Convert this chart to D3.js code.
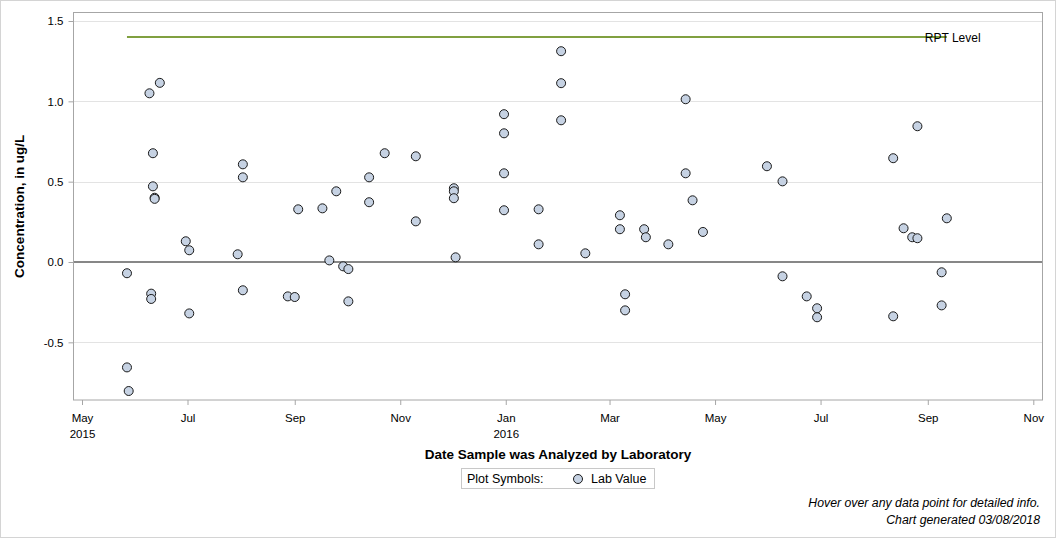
<!DOCTYPE html>
<html>
<head>
<meta charset="utf-8">
<script src="https://cdn.jsdelivr.net/npm/d3@7"></script>
<style>
  html, body { margin: 0; padding: 0; background: #fff; }
  svg { display: block; font-family: "Liberation Sans", Arial, sans-serif; }
</style>
</head>
<body>
<script>
// sample dates (analysed by lab) and lab values
const dates = [
  "2015-05-27", "2015-05-27", "2015-05-28",
  "2015-06-09", "2015-06-10", "2015-06-10", "2015-06-11", "2015-06-11",
  "2015-06-12", "2015-06-12", "2015-06-15",
  "2015-06-30", "2015-07-02", "2015-07-02",
  "2015-07-30", "2015-08-02", "2015-08-02", "2015-08-02",
  "2015-08-28", "2015-09-01", "2015-09-03", "2015-09-17", "2015-09-21",
  "2015-09-25", "2015-09-29", "2015-10-02", "2015-10-02",
  "2015-10-14", "2015-10-14", "2015-10-23", "2015-11-10", "2015-11-10",
  "2015-12-02", "2015-12-02", "2015-12-02", "2015-12-03",
  "2015-12-31", "2015-12-31", "2015-12-31", "2015-12-31",
  "2016-01-20", "2016-01-20",
  "2016-02-02", "2016-02-02", "2016-02-02", "2016-02-16",
  "2016-03-07", "2016-03-07", "2016-03-10", "2016-03-10",
  "2016-03-21", "2016-03-22", "2016-04-04",
  "2016-04-14", "2016-04-14", "2016-04-18", "2016-04-24",
  "2016-05-31", "2016-06-09", "2016-06-09",
  "2016-06-23", "2016-06-29", "2016-06-29",
  "2016-08-12", "2016-08-12", "2016-08-18", "2016-08-23",
  "2016-08-26", "2016-08-26", "2016-09-09", "2016-09-09", "2016-09-12"
];
const labValues = [
  -0.07, -0.656, -0.803,
  1.05, -0.197, -0.23, 0.677, 0.471,
  0.40, 0.393, 1.115,
  0.129, 0.073, -0.32,
  0.048, 0.608, 0.527, -0.176,
  -0.214, -0.218, 0.328, 0.334, 0.01,
  0.44, -0.027, -0.044, -0.245,
  0.527, 0.372, 0.677, 0.658, 0.253,
  0.459, 0.44, 0.397, 0.029,
  0.92, 0.801, 0.552, 0.322,
  0.328, 0.11,
  1.312, 1.113, 0.882, 0.054,
  0.291, 0.204, -0.201, -0.301,
  0.204, 0.154, 0.11,
  1.013, 0.552, 0.384, 0.187,
  0.596, 0.502, -0.089,
  -0.214, -0.288, -0.344,
  0.646, -0.338, 0.21, 0.154,
  0.148, 0.845, -0.064, -0.27, 0.272
];
const rptLevel = 1.4;
const yTicks = [-0.5, 0.0, 0.5, 1.0, 1.5];
const monthNames = ["Jan","Feb","Mar","Apr","May","Jun","Jul","Aug","Sep","Oct","Nov","Dec"];

const W = 1056, H = 538;
const plot = { left: 73, right: 1043, top: 12.5, bottom: 400 };

const svg = d3.select("body").append("svg")
  .attr("width", W).attr("height", H);

// outer border
svg.append("rect")
  .attr("x", 0.5).attr("y", 0.5).attr("width", W - 1).attr("height", H - 1)
  .attr("fill", "#fff").attr("stroke", "#d4d4d4");

const parse = d3.utcParse("%Y-%m-%d");
const data = dates.map((d, i) => ({ date: parse(d), value: labValues[i] }));

const x = d3.scaleUtc()
  .domain([parse("2015-05-01"), parse("2016-11-01")])
  .range([82, 1033.3]);
const y = d3.scaleLinear()
  .domain([0, 1.5])
  .range([262, 21]);

// grid lines
svg.append("g").selectAll("line")
  .data(yTicks)
  .enter().append("line")
  .attr("x1", plot.left).attr("x2", plot.right)
  .attr("y1", d => Math.round(y(d)) + 0.5).attr("y2", d => Math.round(y(d)) + 0.5)
  .attr("stroke", "#e3e3e3");

// zero reference line
svg.append("line")
  .attr("x1", plot.left).attr("x2", plot.right)
  .attr("y1", y(0)).attr("y2", y(0))
  .attr("stroke", "#878787").attr("stroke-width", 2);

// frame
svg.append("rect")
  .attr("x", plot.left + 0.5).attr("y", plot.top)
  .attr("width", plot.right - plot.left - 1).attr("height", plot.bottom - plot.top)
  .attr("fill", "none").attr("stroke", "#a6a6a6");

// y axis
const fmt = d3.format(".1f");
const yAxis = svg.append("g")
  .attr("transform", `translate(${plot.left + 0.5},0)`)
  .call(d3.axisLeft(y).tickValues(yTicks).tickSize(5).tickPadding(5)
    .tickFormat(d => fmt(d).replace("\u2212", "-")));
yAxis.select(".domain").remove();
yAxis.selectAll("line").attr("stroke", "#a6a6a6");
yAxis.selectAll("text")
  .attr("fill", "#000").attr("font-size", 11.5)
  .attr("font-family", "Liberation Sans, Arial, sans-serif");

// x axis
const xTicks = d3.utcMonth.every(2).range(parse("2015-05-01"), parse("2016-11-02"));
const xAxis = svg.append("g")
  .attr("transform", `translate(0,${plot.bottom})`)
  .call(d3.axisBottom(x).tickValues(xTicks).tickSize(5).tickPadding(9)
    .tickFormat(d => monthNames[d.getUTCMonth()]));
xAxis.select(".domain").remove();
xAxis.selectAll("line").attr("stroke", "#a6a6a6");
xAxis.selectAll("text")
  .attr("fill", "#000").attr("font-size", 11.5)
  .attr("font-family", "Liberation Sans, Arial, sans-serif");
// year under first tick and under January
xAxis.selectAll(".tick")
  .filter((d, i) => i === 0 || d.getUTCMonth() === 0)
  .append("text")
  .attr("y", 30).attr("dy", "0.71em")
  .attr("text-anchor", "middle")
  .attr("fill", "#000").attr("font-size", 11.5)
  .text(d => d.getUTCFullYear());

// RPT level line
const first = d3.min(data, d => d.date), last = d3.max(data, d => d.date);
svg.append("line")
  .attr("x1", x(first)).attr("x2", x(last))
  .attr("y1", y(rptLevel)).attr("y2", y(rptLevel))
  .attr("stroke", "#80a040").attr("stroke-width", 2);
svg.append("text")
  .attr("x", x(last) - 22).attr("y", y(rptLevel) + 5)
  .attr("font-size", 12).attr("fill", "#000")
  .text("RPT Level");

// points
svg.append("g").selectAll("circle")
  .data(data)
  .enter().append("circle")
  .attr("cx", d => x(d.date))
  .attr("cy", d => y(d.value))
  .attr("r", 4.5)
  .attr("fill", "#c6d2e3")
  .attr("stroke", "#1a1a1a")
  .attr("stroke-width", 1);

// axis titles
svg.append("text")
  .attr("transform", `translate(24,${(plot.top + plot.bottom) / 2}) rotate(-90)`)
  .attr("text-anchor", "middle")
  .attr("font-size", 13.5).attr("font-weight", "bold")
  .text("Concentration, in ug/L");
svg.append("text")
  .attr("x", (plot.left + plot.right) / 2).attr("y", 459)
  .attr("text-anchor", "middle")
  .attr("font-size", 13.5).attr("font-weight", "bold")
  .text("Date Sample was Analyzed by Laboratory");

// legend
const lg = svg.append("g");
lg.append("rect")
  .attr("x", 461.5).attr("y", 468.5).attr("width", 193).attr("height", 20)
  .attr("fill", "#fff").attr("stroke", "#c8c8c8");
lg.append("text").attr("x", 467).attr("y", 483)
  .attr("font-size", 12.5).text("Plot Symbols:");
lg.append("circle").attr("cx", 578).attr("cy", 479).attr("r", 4.5)
  .attr("fill", "#c6d2e3").attr("stroke", "#1a1a1a");
lg.append("text").attr("x", 591).attr("y", 483)
  .attr("font-size", 12.5).text("Lab Value");

// footnotes
svg.append("text")
  .attr("x", 1040).attr("y", 507).attr("text-anchor", "end")
  .attr("font-size", 12.3).attr("font-style", "italic")
  .text("Hover over any data point for detailed info.");
svg.append("text")
  .attr("x", 1040).attr("y", 524).attr("text-anchor", "end")
  .attr("font-size", 12.3).attr("font-style", "italic")
  .text("Chart generated 03/08/2018");
</script>
</body>
</html>
